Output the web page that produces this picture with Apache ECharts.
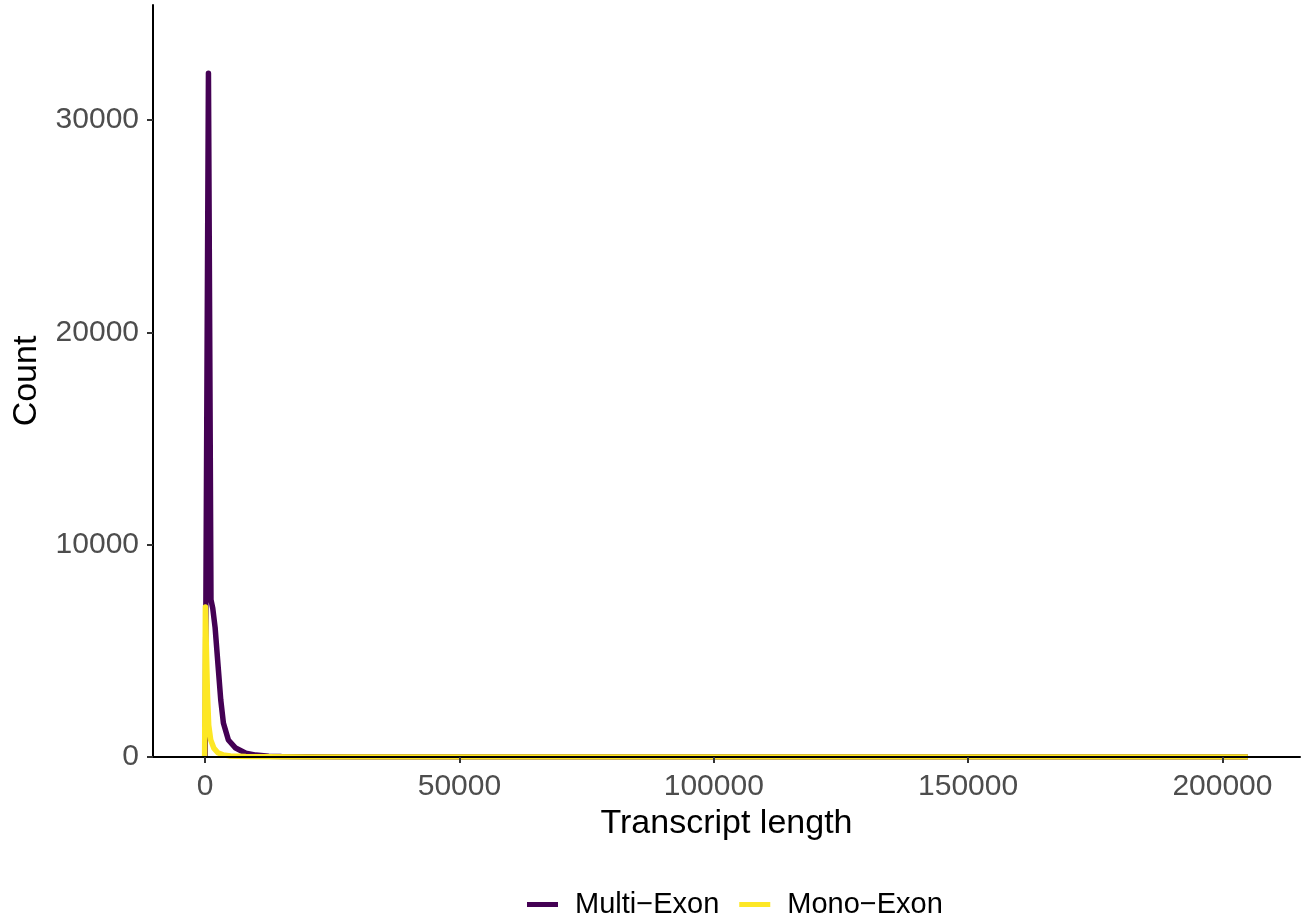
<!DOCTYPE html>
<html>
<head>
<meta charset="utf-8">
<script src="https://cdn.jsdelivr.net/npm/echarts@6/dist/echarts.min.js"></script>
<style>
  html, body { margin: 0; padding: 0; background: #ffffff; }
  #chart { width: 1311px; height: 918px; }
</style>
</head>
<body>
<div id="chart"></div>
<script>
// Frequency polygon of transcript lengths, split by exon structure.
const seriesNames = ['Multi\u2212Exon', 'Mono\u2212Exon'];
const seriesColors = ['#440154', '#FDE725'];

// Multi-exon transcripts: bin position (length) and count
const multiLength = [0, 650, 1150, 1500, 1960, 2610, 3070, 3590, 4570, 6000, 8000, 10000, 12500, 15000, 20000, 30000, 50000, 100000, 150000, 205000];
const multiCount  = [0, 32200, 7400, 7000, 6100, 4100, 2690, 1600, 800, 420, 180, 90, 40, 20, 10, 5, 2, 1, 1, 0];

// Mono-exon transcripts: bin position (length) and count
const monoLength = [-100, 50, 450, 700, 1100, 1700, 2500, 3500, 5000, 8000, 12000, 20000, 50000, 100000, 150000, 205000];
const monoCount  = [0, 7070, 3000, 1500, 800, 420, 200, 100, 50, 20, 8, 3, 1, 1, 0, 0];

// Axis ticks
const xTicks = [0, 50000, 100000, 150000, 200000];
const yTicks = [0, 10000, 20000, 30000];

const toPairs = (xs, ys) => xs.map((x, i) => [x, ys[i]]);
const plain = v => String(Math.round(v));

const font = '"Liberation Sans", Arial, Helvetica, sans-serif';
const chart = echarts.init(document.getElementById('chart'), null, { renderer: 'canvas' });

chart.setOption({
  animation: false,
  backgroundColor: '#ffffff',
  grid: { left: 153, right: 11, top: 5, bottom: 161, containLabel: false },
  legend: {
    data: seriesNames,
    left: 527,
    top: 890,
    padding: 0,
    icon: 'rect',
    itemWidth: 31,
    itemHeight: 5,
    itemGap: 20,
    textStyle: { fontFamily: font, fontSize: 29, color: '#000000', padding: [0, 0, 0, 12] }
  },
  xAxis: {
    type: 'value',
    min: -10250,
    max: 215250,
    z: 5,
    name: 'Transcript length',
    nameLocation: 'middle',
    nameGap: 48,
    nameTextStyle: { fontFamily: font, fontSize: 34, color: '#000000' },
    axisLine: { show: true, onZero: false, lineStyle: { color: '#000000', width: 2 } },
    axisTick: { show: true, length: 6, lineStyle: { color: '#333333', width: 2 }, customValues: xTicks },
    axisLabel: { fontFamily: font, fontSize: 30, color: '#4D4D4D', margin: 15, customValues: xTicks, formatter: plain },
    splitLine: { show: false }
  },
  yAxis: {
    type: 'value',
    min: 0,
    max: 35420,
    z: 5,
    name: 'Count',
    nameLocation: 'middle',
    nameRotate: 90,
    nameGap: 109,
    nameTextStyle: { fontFamily: font, fontSize: 34, color: '#000000' },
    axisLine: { show: true, onZero: false, lineStyle: { color: '#000000', width: 2 } },
    axisTick: { show: true, length: 6, lineStyle: { color: '#333333', width: 2 }, customValues: yTicks },
    axisLabel: { fontFamily: font, fontSize: 30, color: '#4D4D4D', margin: 14, customValues: yTicks, formatter: plain },
    splitLine: { show: false }
  },
  series: [
    {
      name: seriesNames[0],
      type: 'line',
      data: toPairs(multiLength, multiCount),
      showSymbol: false,
      color: seriesColors[0],
      lineStyle: { color: seriesColors[0], width: 5.5, join: 'round', cap: 'butt' }
    },
    {
      name: seriesNames[1],
      type: 'line',
      data: toPairs(monoLength, monoCount),
      showSymbol: false,
      color: seriesColors[1],
      lineStyle: { color: seriesColors[1], width: 5.5, join: 'round', cap: 'butt' }
    }
  ]
});
</script>
</body>
</html>
